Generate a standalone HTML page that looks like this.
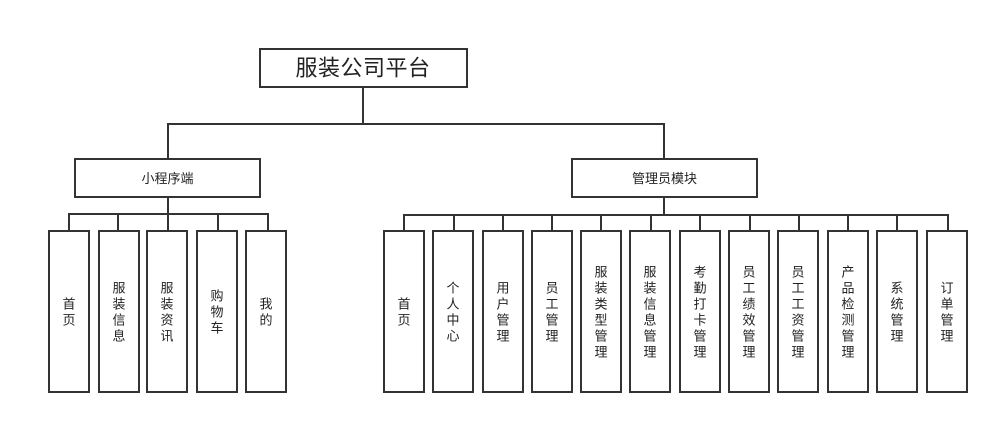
<!DOCTYPE html>
<html><head><meta charset="utf-8">
<style>
html,body{margin:0;padding:0;background:#fff;}
svg{display:block;}
text{font-family:"Liberation Sans","Noto Sans CJK SC",sans-serif;fill:#222;}
</style></head>
<body>
<svg width="999" height="426" viewBox="0 0 999 426" xmlns="http://www.w3.org/2000/svg">
<g fill="none" stroke="#333" stroke-width="2">
  <!-- top box -->
  <rect x="260" y="49" width="207" height="38"/>
  <!-- mid boxes -->
  <rect x="75" y="159" width="185" height="38"/>
  <rect x="572" y="159" width="185" height="38"/>
  <!-- top connectors -->
  <path d="M363 88 V124 M168 124 H664 M168 123 V159 M664 123 V159"/>
  <!-- left connectors -->
  <path d="M168 197 V214 M69 214 H268 M69 213 V231 M118 213 V231 M168 213 V231 M218 213 V231 M268 213 V231"/>
  <!-- right connectors -->
  <path d="M664 197 V215 M404 215 H948 M404 214 V231 M454 214 V231 M503 214 V231 M552 214 V231 M601 214 V231 M651 214 V231 M700 214 V231 M750 214 V231 M799 214 V231 M848 214 V231 M897 214 V231 M948 214 V231"/>
  <!-- left leaves -->
  <rect x="49" y="231" width="40" height="161"/>
  <rect x="99" y="231" width="40" height="161"/>
  <rect x="147" y="231" width="40" height="161"/>
  <rect x="197" y="231" width="40" height="161"/>
  <rect x="246" y="231" width="40" height="161"/>
  <!-- right leaves -->
  <rect x="384" y="231" width="40" height="161"/>
  <rect x="433" y="231" width="40" height="161"/>
  <rect x="483" y="231" width="40" height="161"/>
  <rect x="532" y="231" width="40" height="161"/>
  <rect x="581" y="231" width="40" height="161"/>
  <rect x="630" y="231" width="40" height="161"/>
  <rect x="680" y="231" width="40" height="161"/>
  <rect x="729" y="231" width="40" height="161"/>
  <rect x="778" y="231" width="40" height="161"/>
  <rect x="828" y="231" width="40" height="161"/>
  <rect x="877" y="231" width="40" height="161"/>
  <rect x="927" y="231" width="40" height="161"/>
</g>

<text x="363" y="68" font-size="22" text-anchor="middle" dominant-baseline="central" letter-spacing="0.5">服装公司平台</text>
<text x="167.5" y="178.5" font-size="13" text-anchor="middle" dominant-baseline="central">小程序端</text>
<text x="664.5" y="178.5" font-size="13" text-anchor="middle" dominant-baseline="central">管理员模块</text>

<g font-size="13" text-anchor="middle" dominant-baseline="central">
  <!-- left leaves -->
  <text x="69" y="304">首</text><text x="69" y="320">页</text>
  <text x="119" y="288">服</text><text x="119" y="304">装</text><text x="119" y="320">信</text><text x="119" y="336">息</text>
  <text x="167" y="288">服</text><text x="167" y="304">装</text><text x="167" y="320">资</text><text x="167" y="336">讯</text>
  <text x="217" y="296">购</text><text x="217" y="312">物</text><text x="217" y="328">车</text>
  <text x="266" y="304">我</text><text x="266" y="320">的</text>

  <!-- right leaves -->
  <text x="404" y="304">首</text><text x="404" y="320">页</text>
  <text x="453" y="288">个</text><text x="453" y="304">人</text><text x="453" y="320">中</text><text x="453" y="336">心</text>
  <text x="503" y="288">用</text><text x="503" y="304">户</text><text x="503" y="320">管</text><text x="503" y="336">理</text>
  <text x="552" y="288">员</text><text x="552" y="304">工</text><text x="552" y="320">管</text><text x="552" y="336">理</text>
  <text x="601" y="272">服</text><text x="601" y="288">装</text><text x="601" y="304">类</text><text x="601" y="320">型</text><text x="601" y="336">管</text><text x="601" y="352">理</text>
  <text x="650" y="272">服</text><text x="650" y="288">装</text><text x="650" y="304">信</text><text x="650" y="320">息</text><text x="650" y="336">管</text><text x="650" y="352">理</text>
  <text x="700" y="272">考</text><text x="700" y="288">勤</text><text x="700" y="304">打</text><text x="700" y="320">卡</text><text x="700" y="336">管</text><text x="700" y="352">理</text>
  <text x="749" y="272">员</text><text x="749" y="288">工</text><text x="749" y="304">绩</text><text x="749" y="320">效</text><text x="749" y="336">管</text><text x="749" y="352">理</text>
  <text x="798" y="272">员</text><text x="798" y="288">工</text><text x="798" y="304">工</text><text x="798" y="320">资</text><text x="798" y="336">管</text><text x="798" y="352">理</text>
  <text x="848" y="272">产</text><text x="848" y="288">品</text><text x="848" y="304">检</text><text x="848" y="320">测</text><text x="848" y="336">管</text><text x="848" y="352">理</text>
  <text x="897" y="288">系</text><text x="897" y="304">统</text><text x="897" y="320">管</text><text x="897" y="336">理</text>
  <text x="947" y="288">订</text><text x="947" y="304">单</text><text x="947" y="320">管</text><text x="947" y="336">理</text>
</g>
</svg>
</body></html>
